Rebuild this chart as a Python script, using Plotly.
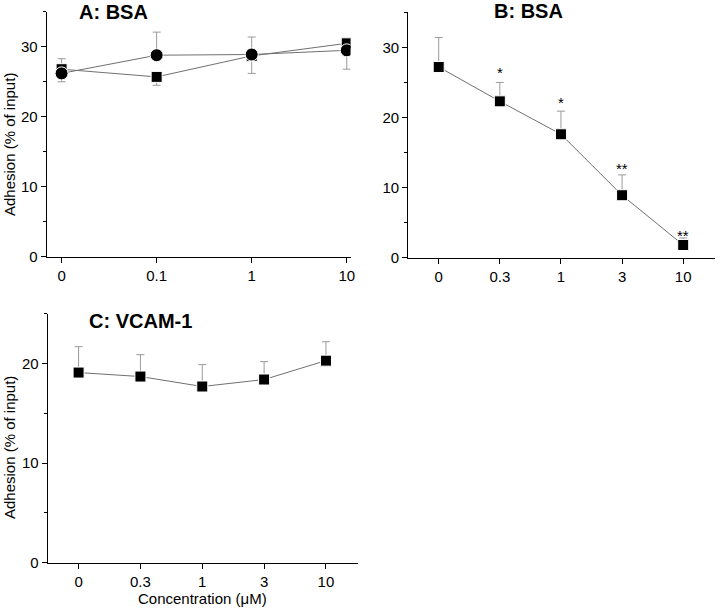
import plotly.graph_objects as go

# ---- data ----
a_labels = ["0", "0.1", "1", "10"]
a_square = [26.8, 25.7, 28.7, 30.5]
a_square_plus = [1.5, 0, 0, 0.3]
a_square_minus = [0, 1.2, 2.5, 0]
a_circle = [26.2, 28.8, 28.9, 29.5]
a_circle_plus = [0, 3.3, 2.5, 0]
a_circle_minus = [1.2, 0, 0, 2.7]

bc_labels = ["0", "0.3", "1", "3", "10"]
b_vals = [27.2, 22.3, 17.6, 8.9, 1.8]
b_err = [4.2, 2.7, 3.3, 2.9, 1.0]
b_sig = ["", "*", "*", "**", "**"]
b_sig_y = [0, 26.8, 22.5, 13.2, 3.6]

c_vals = [19.1, 18.7, 17.7, 18.4, 20.3]
c_err = [2.6, 2.2, 2.2, 1.8, 1.9]

W, H = 720, 616
FONT = "Liberation Sans, Arial, sans-serif"
LINE = "#707070"
ERR = "#9a9a9a"

fig = go.Figure()

def idx(n):
    return list(range(n))

def add_series(xa, ya, y, sym, plus, minus=None, size=11):
    eb = dict(type="data", array=plus, symmetric=minus is None, color=ERR,
              thickness=1, width=4)
    if minus is not None:
        eb["arrayminus"] = minus
    fig.add_trace(go.Scatter(
        x=idx(len(y)), y=y, xaxis=xa, yaxis=ya, mode="lines+markers",
        line=dict(color=LINE, width=1),
        marker=dict(symbol=sym, size=size, color="black",
                    line=dict(color="white", width=1)),
        error_y=eb, showlegend=False, hoverinfo="skip"))

add_series("x", "y", a_square, "square", a_square_plus, a_square_minus, 11)
add_series("x", "y", a_circle, "circle", a_circle_plus, a_circle_minus, 13)
add_series("x2", "y2", b_vals, "square", b_err, [0]*5, 11)
add_series("x3", "y3", c_vals, "square", c_err, [0]*5, 11)

def px(v):
    return v / W

def py(v):
    return 1 - v / H

TICKFONT = dict(size=15, color="black", family=FONT)
yax = dict(showline=True, linecolor="black", linewidth=1, ticks="outside",
           ticklen=5, tickwidth=1, tickcolor="black", showgrid=False,
           zeroline=False, dtick=10, tickfont=TICKFONT,
           minor=dict(ticks="outside", ticklen=3, tickwidth=1, tickcolor="black",
                      dtick=5, showgrid=False))
xax = dict(showline=True, linecolor="black", linewidth=1, ticks="outside",
           ticklen=5, tickwidth=1, tickcolor="black", showgrid=False,
           zeroline=False, tickfont=TICKFONT)

fig.update_layout(
    width=W, height=H, margin=dict(l=0, r=0, t=0, b=0),
    paper_bgcolor="white", plot_bgcolor="white",
    font=dict(family=FONT, color="black"),
    xaxis=dict(xax, domain=[px(47), px(353)], range=[-0.157, 3.04],
               tickvals=idx(4), ticktext=a_labels, anchor="y"),
    yaxis=dict(yax, domain=[py(260), py(12)], range=[0, 35], anchor="x"),
    xaxis2=dict(xax, domain=[px(411), 1.0], range=[-0.5, 4.52],
                tickvals=idx(5), ticktext=bc_labels, anchor="y2"),
    yaxis2=dict(yax, domain=[py(261), py(12.5)], range=[0, 35], anchor="x2"),
    xaxis3=dict(xax, domain=[px(48), px(360)], range=[-0.5, 4.51],
                tickvals=idx(5), ticktext=bc_labels, anchor="y3"),
    yaxis3=dict(yax, domain=[py(570), py(318)], range=[0, 25], anchor="x3"),
)

ann = []
title_font = dict(size=20, color="black", family=FONT)
ann.append(dict(text="<b>A: BSA</b>", xref="paper", yref="paper", x=px(114), y=py(12),
                showarrow=False, font=title_font, xanchor="center", yanchor="middle"))
ann.append(dict(text="<b>B: BSA</b>", xref="paper", yref="paper", x=px(532), y=py(11),
                showarrow=False, font=title_font, xanchor="center", yanchor="middle"))
ann.append(dict(text="<b>C: VCAM-1</b>", xref="paper", yref="paper", x=px(141), y=py(325),
                showarrow=False, font=title_font, xanchor="center", yanchor="middle"))
lab_font = dict(size=15, color="black", family=FONT)
ann.append(dict(text="Adhesion (% of input)", xref="paper", yref="paper", x=px(9), y=py(146),
                textangle=-90, showarrow=False, font=lab_font, xanchor="center", yanchor="middle"))
ann.append(dict(text="Adhesion (% of input)", xref="paper", yref="paper", x=px(9), y=py(453),
                textangle=-90, showarrow=False, font=lab_font, xanchor="center", yanchor="middle"))
ann.append(dict(text="Concentration (μM)", xref="paper", yref="paper", x=px(204), y=py(606),
                showarrow=False, font=lab_font, xanchor="center", yanchor="middle"))
for i, (s, yy) in enumerate(zip(b_sig, b_sig_y)):
    if s:
        ann.append(dict(text=s, xref="x2", yref="y2", x=i, y=yy, yshift=-3,
                        showarrow=False, font=dict(size=15, color="black", family=FONT),
                        xanchor="center", yanchor="middle"))
fig.update_layout(annotations=ann)

fig.write_html("out.html", config={"displayModeBar": False},
               post_script="document.body.style.margin='0';document.body.style.padding='0';")
